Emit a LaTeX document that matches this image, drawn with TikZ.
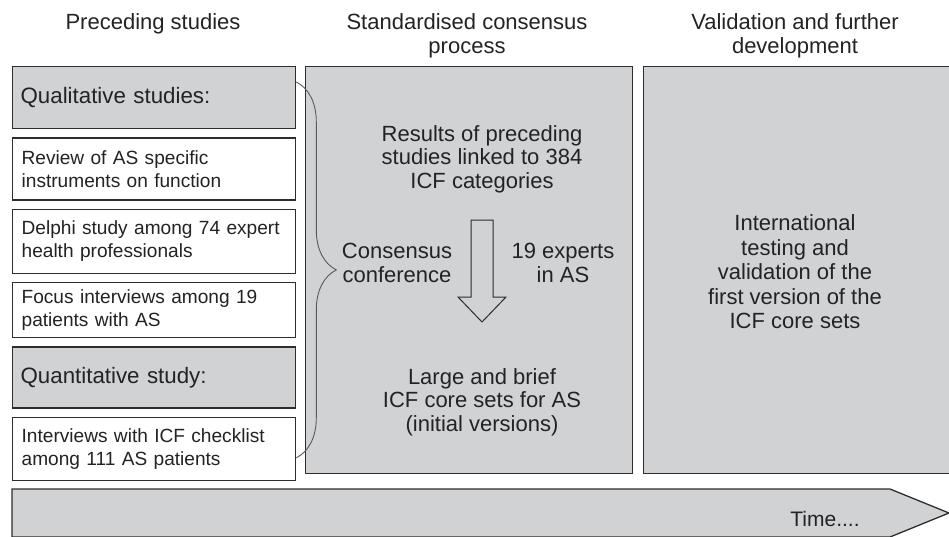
\documentclass[tikz,border=0pt]{standalone}
\usepackage{fontspec}
\setmainfont{Liberation Sans}
\usetikzlibrary{positioning,calc,decorations.pathreplacing}
\definecolor{boxgray}{RGB}{209,210,212}
\definecolor{edgegray}{RGB}{45,45,45}
\definecolor{inkgray}{RGB}{35,35,35}
\hyphenpenalty=10000

\begin{document}
\begin{tikzpicture}[x=1pt,y=-1pt,
	node distance	= 8pt,
	study/.style	= {draw=edgegray, line width=1.3pt, fill=white, minimum width=283pt,
			   text width=265pt, inner xsep=9pt, align=left, text=inkgray,
			   font=\fontsize{19.1}{23}\selectfont},
	studyhead/.style	= {study, fill=boxgray, text width=267pt, inner xsep=8pt, font=\fontsize{22.3}{24}\selectfont},
	phase/.style	= {draw=edgegray, line width=1.3pt, fill=boxgray, minimum height=407pt, inner sep=0pt},
	phasetext/.style	= {align=center, text=inkgray, font=\fontsize{22}{23.5}\selectfont},
	header/.style	= {phasetext},
	bracket/.style	= {draw=black!65, line width=0.9pt, decorate, decoration={brace, amplitude=40pt}}]
					%\draw[help lines] (0,0) grid (949,536);
					\useasboundingbox (0,0) rectangle (949,536);
					
					% column titles
					\node[header] (hpre) at (153,24) {Preceding studies};
					\node[header] (hcons) at (467,36) {Standardised consensus\\process};
					\node[header] (hvalid) at (795,36) {Validation and further\\development};
					
					% preceding studies
					\node[studyhead, minimum height=62pt, anchor=north west] (qual) at (12,66) {Qualitative studies:};
					\node[study, minimum height=62pt, below=of qual] (review) {Review of AS specific\\instruments on function};
					\node[study, minimum height=64pt, below=of review] (delphi) {Delphi study among 74 expert\\health professionals};
					\node[study, minimum height=55pt, below=of delphi] (focus) {Focus interviews among 19\\patients with AS};
					\node[studyhead, minimum height=61pt, below=of focus] (quant) {Quantitative study:};
					\node[study, minimum height=63pt, below=of quant] (checklist) {Interviews with ICF checklist\\among 111 AS patients};
					
					% consensus process and validation
					\node[phase, minimum width=327pt, anchor=north west] (consensus) at (305,66) {};
					\node[phase, minimum width=320pt, anchor=north west] (validation) at (643,66) {};
					
					\draw[bracket] ($(qual.north east)+(0,16)$) -- ($(checklist.south east)+(0,-23)$);
					
					\node[phasetext] (results) at (482,159) {Results of preceding\\studies linked to 384\\ICF categories};
					\node[phasetext] (conference) at (397,263) {Consensus\\conference};
					\node[phasetext] (experts) at (563,263) {19 experts\\in AS};
					\node[phasetext] (coresets) at (482,402) {Large and brief\\ICF core sets for AS\\(initial versions)};
					\draw[edgegray, line width=1pt, fill=boxgray, shift={(482,220)}]
						(-11,0) -- (11,0) -- (11,77) -- (24,77) -- (0,102) -- (-24,77) -- (-11,77) -- cycle;
					
					\node[phasetext, font=\fontsize{22}{24.5}\selectfont] (testing) at (795,272) {International\\testing and\\validation of the\\first version of the\\ICF core sets};
					
					% time line
					\draw[edgegray, line width=1.3pt, fill=boxgray] (12,489) -- (890,489) -- (949,513) -- (890,537) -- (12,537) -- cycle;
					\node[phasetext, font=\fontsize{21}{23}\selectfont] (time) at (825,519) {Time....};
				\end{tikzpicture}
\end{document}
